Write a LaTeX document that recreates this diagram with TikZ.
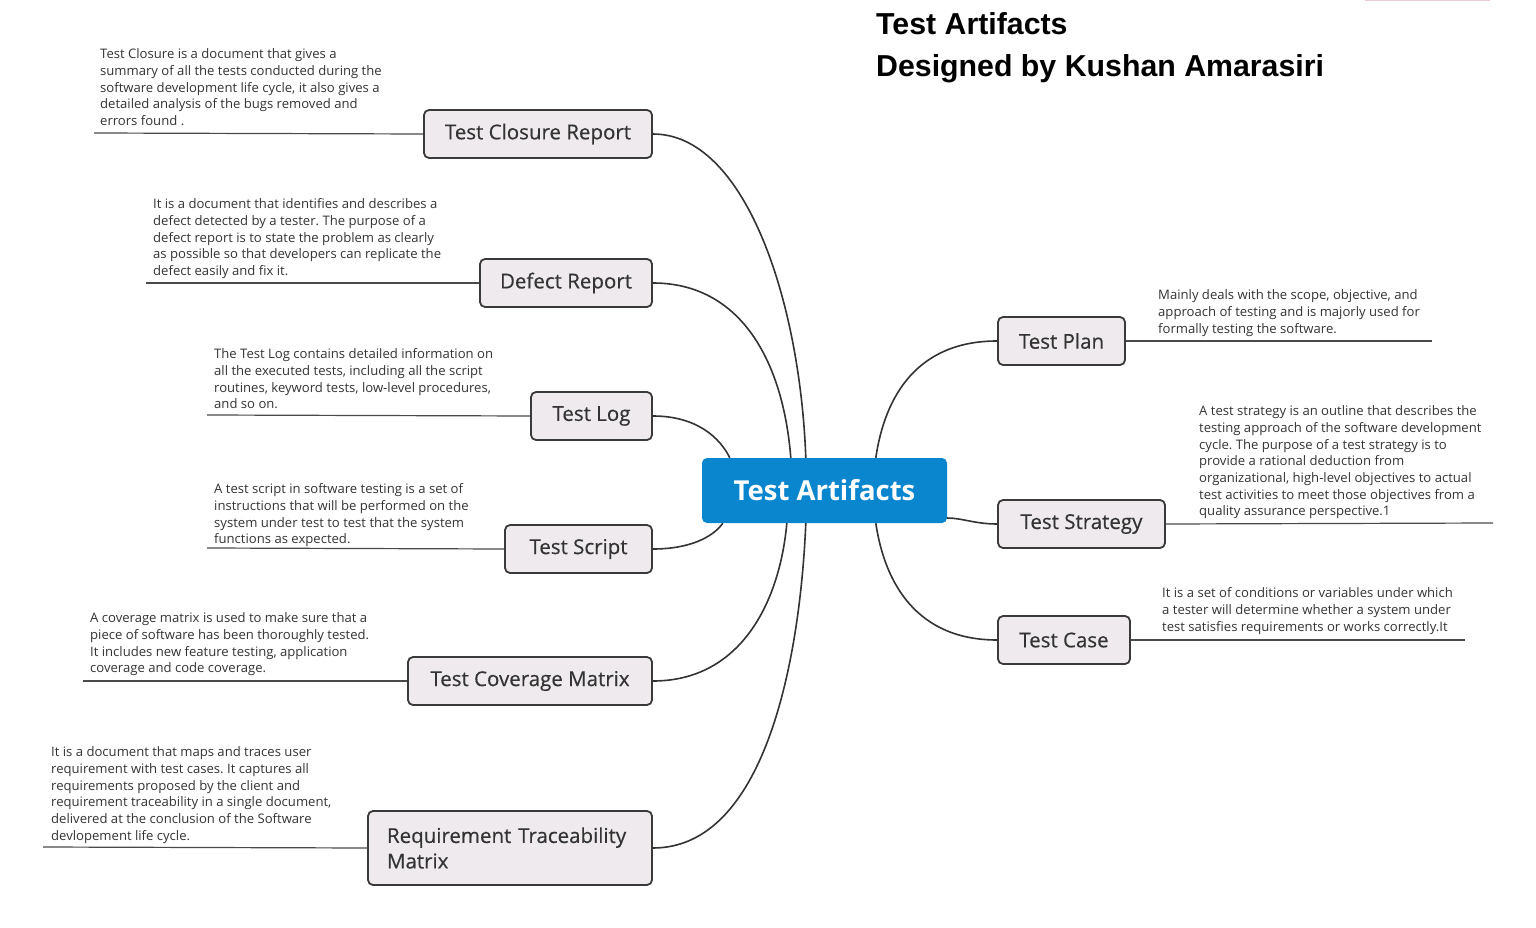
\documentclass[tikz,border=0pt]{standalone}
\usepackage{fontspec}
\setmainfont{Open Sans}
\newfontfamily\topicfont[FakeBold=0.4]{Open Sans}
\newfontfamily\titlefont{Liberation Sans}
\frenchspacing
\definecolor{ink}{HTML}{333333}
\definecolor{edge}{HTML}{3A3A3A}
\definecolor{topicfill}{HTML}{EEEAED}
\definecolor{hubblue}{HTML}{0A86CF}
\definecolor{ulinecol}{HTML}{4A4A4A}
\definecolor{pinkbar}{HTML}{F2C9D6}
\begin{document}
\begin{tikzpicture}[x=1pt,y=-1pt,
  topic/.style={draw=edge, line width=1.8pt, fill=topicfill, rounded corners=5pt,
    minimum height=48pt, inner sep=0pt, font=\topicfont\fontsize{20.5}{25}\selectfont, text=ink},
  hub/.style={fill=hubblue, rounded corners=5pt, minimum width=245pt, minimum height=65pt,
    inner sep=0pt, font=\fontsize{27.5}{32}\selectfont\bfseries, text=white},
  desc/.style={anchor=north west, inner sep=0pt, align=left,
    font=\fontsize{13.1}{16.7}\selectfont\frenchspacing, text=ink},
  uline/.style={draw=ulinecol, line width=1.2pt},
  link/.style={draw=ink, line width=1.6pt},
  titletext/.style={anchor=base west, inner sep=0pt, font=\titlefont\bfseries\fontsize{30.3}{34}\selectfont, text=black}
]
\useasboundingbox (0,0) rectangle (1536,928);
\fill[pinkbar] (1365,0) rectangle (1490,1.5);

% title
\node[titletext] (title1) at (876,35) {Test Artifacts};
\node[titletext] (title2) at (876,77) {Designed by Kushan Amarasiri};

% hub
\node[hub] (hub) at (824.5,490.5) {Test Artifacts};

% topics
\node[topic, minimum width=228pt] (closure) at (538,134) {Test Closure Report};
\node[topic, minimum width=172pt] (defect) at (566,283) {Defect Report};
\node[topic, minimum width=121pt] (log) at (591.5,416) {Test Log};
\node[topic, minimum width=147pt] (script) at (578.5,549) {Test Script};
\node[topic, minimum width=244pt] (coverage) at (530,681) {Test Coverage Matrix};
\node[topic, minimum width=284pt, minimum height=74pt, align=left, text width=246pt,
      font=\topicfont\fontsize{20.5}{25.5}\selectfont] (rtm) at (510,848) {Requirement Traceability\\Matrix};
\node[topic, minimum width=127pt] (plan) at (1061.5,341) {Test Plan};
\node[topic, minimum width=167pt] (strategy) at (1081.5,524) {Test Strategy};
\node[topic, minimum width=132pt] (case) at (1064,640) {Test Case};

% attach points on hub border
\path (hub.north west) ++(28,0) coordinate (tLog)
      (hub.north west) ++(89,0) coordinate (tDefect)
      (hub.north west) ++(104,0) coordinate (tClosure)
      (hub.north west) ++(174,0) coordinate (tPlan)
      (hub.south west) ++(21,0) coordinate (bScript)
      (hub.south west) ++(85,0) coordinate (bCoverage)
      (hub.south west) ++(104,0) coordinate (bRtm)
      (hub.south west) ++(174,0) coordinate (bCase)
      (hub.east) ++(0,27.5) coordinate (rStrategy);

% connectors
\draw[link] (closure.east) .. controls (745,134) and (800,300) .. (tClosure);
\draw[link] (defect.east) .. controls (740,283) and (783,360) .. (tDefect);
\draw[link] (log.east) .. controls (697,416) and (720,438) .. (tLog);
\draw[link] (script.east) .. controls (690,549) and (713,537) .. (bScript);
\draw[link] (coverage.east) .. controls (742,681) and (780,600) .. (bCoverage);
\draw[link] (rtm.east) .. controls (765,848) and (800,660) .. (bRtm);
\draw[link] (plan.west) .. controls (918,341) and (885,395) .. (tPlan);
\draw[link] (strategy.west) .. controls (975,524) and (962,518) .. (rStrategy);
\draw[link] (case.west) .. controls (918,640) and (885,585) .. (bCase);

% underline end points
\coordinate (eClosure) at (94,133);
\coordinate (eDefect) at (146,283);
\coordinate (eLog) at (207,415);
\coordinate (eScript) at (207,548);
\coordinate (eCoverage) at (83,681);
\coordinate (eRtm) at (43,847);
\coordinate (ePlan) at (1432,341);
\coordinate (eStrategy) at (1493,523);
\coordinate (eCase) at (1465,640);

\draw[uline] (closure.west) -- (eClosure);
\draw[uline] (defect.west) -- (eDefect);
\draw[uline] (log.west) -- (eLog);
\draw[uline] (script.west) -- (eScript);
\draw[uline] (coverage.west) -- (eCoverage);
\draw[uline] (rtm.west) -- (eRtm);
\draw[uline] (plan.east) -- (ePlan);
\draw[uline] (strategy.east) -- (eStrategy);
\draw[uline] (case.east) -- (eCase);

% descriptions
\node[desc] (dClosure) at (100,48.5) {Test Closure is a document that gives a\\
summary of all the tests conducted during the\\
software development life cycle, it also gives a\\
detailed analysis of the bugs removed and\\
errors found .};
\node[desc] (dDefect) at (153,198.5) {It is a document that identifies and describes a\\
defect detected by a tester. The purpose of a\\
defect report is to state the problem as clearly\\
as possible so that developers can replicate the\\
defect easily and fix it.};
\node[desc] (dLog) at (214,348.5) {The Test Log contains detailed information on\\
all the executed tests, including all the script\\
routines, keyword tests, low-level procedures,\\
and so on.};
\node[desc] (dScript) at (214,483.5) {A test script in software testing is a set of\\
instructions that will be performed on the\\
system under test to test that the system\\
functions as expected.};
\node[desc] (dCoverage) at (90,612.5) {A coverage matrix is used to make sure that a\\
piece of software has been thoroughly tested.\\
It includes new feature testing, application\\
coverage and code coverage.};
\node[desc] (dRtm) at (51,746.5) {It is a document that maps and traces user\\
requirement with test cases. It captures all\\
requirements proposed by the client and\\
requirement traceability in a single document,\\
delivered at the conclusion of the Software\\
devlopement life cycle.};
\node[desc] (dPlan) at (1158,289.5) {Mainly deals with the scope, objective, and\\
approach of testing and is majorly used for\\
formally testing the software.};
\node[desc] (dStrategy) at (1199,405.5) {A test strategy is an outline that describes the\\
testing approach of the software development\\
cycle. The purpose of a test strategy is to\\
provide a rational deduction from\\
organizational, high-level objectives to actual\\
test activities to meet those objectives from a\\
quality assurance perspective.1};
\node[desc] (dCase) at (1162,587.5) {It is a set of conditions or variables under which\\
a tester will determine whether a system under\\
test satisfies requirements or works correctly.It};
\end{tikzpicture}
\end{document}
